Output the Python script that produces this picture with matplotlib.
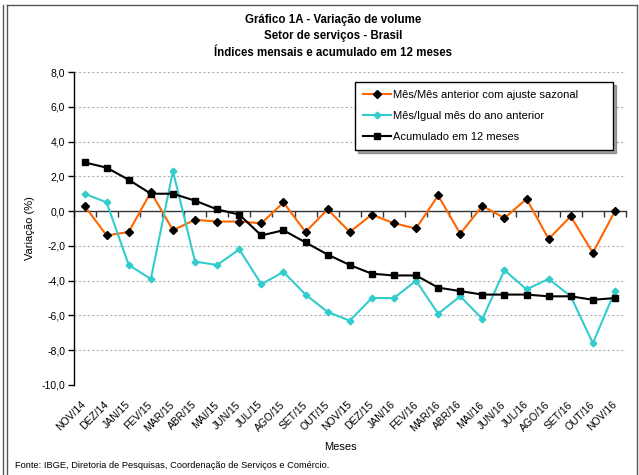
import numpy as np
import matplotlib
matplotlib.use("Agg")
import matplotlib.pyplot as plt
from matplotlib.lines import Line2D
from matplotlib.ticker import FuncFormatter, FixedLocator

plt.rcParams['font.family'] = ['Liberation Sans', 'DejaVu Sans']

months = ["NOV/14", "DEZ/14", "JAN/15", "FEV/15", "MAR/15", "ABR/15", "MAI/15", "JUN/15",
          "JUL/15", "AGO/15", "SET/15", "OUT/15", "NOV/15", "DEZ/15", "JAN/16", "FEV/16",
          "MAR/16", "ABR/16", "MAI/16", "JUN/16", "JUL/16", "AGO/16", "SET/16", "OUT/16", "NOV/16"]

mes_mes_ajuste = [0.3, -1.4, -1.2, 1.1, -1.1, -0.5, -0.6, -0.6, -0.7, 0.5, -1.2, 0.1, -1.2,
                  -0.2, -0.7, -1.0, 0.9, -1.3, 0.3, -0.4, 0.7, -1.6, -0.3, -2.4, 0.0]
mes_igual_mes = [1.0, 0.5, -3.1, -3.9, 2.3, -2.9, -3.1, -2.2, -4.2, -3.5, -4.8, -5.8, -6.3,
                 -5.0, -5.0, -4.0, -5.9, -4.9, -6.2, -3.4, -4.5, -3.9, -4.9, -7.6, -4.6]
acumulado_12m = [2.8, 2.5, 1.8, 1.0, 1.0, 0.6, 0.1, -0.2, -1.4, -1.1, -1.8, -2.5, -3.1,
                 -3.6, -3.7, -3.7, -4.4, -4.6, -4.8, -4.8, -4.8, -4.9, -4.9, -5.1, -5.0]

series_names = ["Mês/Mês anterior com ajuste sazonal", "Mês/Igual mês do ano anterior",
                "Acumulado em 12 meses"]
y_ticks = [8, 6, 4, 2, 0, -2, -4, -6, -8, -10]

W, H = 639, 475
fig = plt.figure(figsize=(W / 100, H / 100), dpi=100)

def fx(px):
    return px / W

def fy(py):
    return 1 - py / H

# outer frames
fig.add_artist(Line2D([fx(2.5), fx(2.5)], [0, fy(5)], color='#555555', lw=1.0))
fig.add_artist(Line2D([fx(7), fx(7)], [0, fy(5)], color='#555555', lw=1.0))
fig.add_artist(Line2D([fx(7), fx(637)], [fy(5), fy(5)], color='#555555', lw=1.0))
fig.add_artist(Line2D([fx(637), fx(637)], [0, fy(5)], color='#555555', lw=1.0))

ax_l, ax_r, ax_t, ax_b = 73.5, 626, 72, 385
ax = fig.add_axes([fx(ax_l), fy(ax_b), fx(ax_r - ax_l), (ax_b - ax_t) / H])

x = np.arange(len(months))
ax.plot(x, mes_mes_ajuste, color='#FF6600', lw=1.5, marker='D', markersize=3.6,
        markerfacecolor='black', markeredgecolor='black', label=series_names[0], zorder=3)
ax.plot(x, mes_igual_mes, color='#33CCCC', lw=1.5, marker='D', markersize=3.4,
        markerfacecolor='#33CCCC', markeredgecolor='#33CCCC', label=series_names[1], zorder=4)
ax.plot(x, acumulado_12m, color='black', lw=1.5, marker='s', markersize=4.2,
        markerfacecolor='black', markeredgecolor='black', label=series_names[2], zorder=5)

ax.set_xlim(-0.5, len(months) - 0.5)
ax.set_ylim(min(y_ticks), max(y_ticks))

# gridlines (excluding zero, which is the category axis)
for yv in y_ticks:
    if yv != 0:
        ax.axhline(yv, color='#B0B0B0', lw=0.8, linestyle=(0, (2, 2)), zorder=1)

ax.spines['top'].set_visible(False)
ax.spines['right'].set_visible(False)
ax.spines['left'].set_linewidth(1.0)
ax.spines['bottom'].set_position(('data', 0))
ax.spines['bottom'].set_linewidth(1.0)
ax.spines['bottom'].set_color('#333333')

ax.yaxis.set_major_locator(FixedLocator(y_ticks))
ax.yaxis.set_major_formatter(FuncFormatter(lambda v, p: f"{v:.1f}".replace('.', ',')))
ax.tick_params(axis='y', direction='out', length=4, width=1, labelsize=7.5, pad=2)

# category boundaries as ticks on the zero axis
ax.set_xticks(np.arange(len(months) + 1) - 0.5)
ax.set_xticklabels([])
ax.tick_params(axis='x', direction='out', length=4, width=1, color='#333333')

sec = ax.secondary_xaxis('bottom')
sec.set_xticks(x)
sec.set_xticklabels(months, rotation=45, ha='right', va='center', rotation_mode='anchor',
                    fontsize=7.5)
sec.tick_params(length=0, pad=13)
sec.spines['bottom'].set_visible(False)

fig.text(fx(30), fy(228), "Variação (%)", rotation=90, ha='center', va='center', fontsize=8)

leg = ax.legend(loc='upper left',
                bbox_to_anchor=((355 - ax_l) / (ax_r - ax_l), 1 - (85 - ax_t) / (ax_b - ax_t),
                                (613 - 355) / (ax_r - ax_l), 0.01),
                mode='expand', borderaxespad=0, fancybox=False, shadow=True,
                edgecolor='black', fontsize=8, handlelength=2.5, handletextpad=0.2,
                labelspacing=1.02, framealpha=1, borderpad=0.7)
leg.get_frame().set_linewidth(1.0)

title_kw = dict(ha='center', va='center', fontsize=8.3, fontweight='bold')
fig.text(fx(333), fy(20), "Gráfico 1A - Variação de volume", **title_kw)
fig.text(fx(333), fy(36.5), "Setor de serviços - Brasil", **title_kw)
fig.text(fx(333), fy(53), "Índices mensais e acumulado em 12 meses", **title_kw)

fig.text(fx(340), fy(447), "Meses", ha='center', va='center', fontsize=8)
fig.text(fx(15), fy(466), "Fonte: IBGE, Diretoria de Pesquisas, Coordenação de Serviços e Comércio.",
         ha='left', va='center', fontsize=6.7)

fig.savefig("out.png", dpi=100)
